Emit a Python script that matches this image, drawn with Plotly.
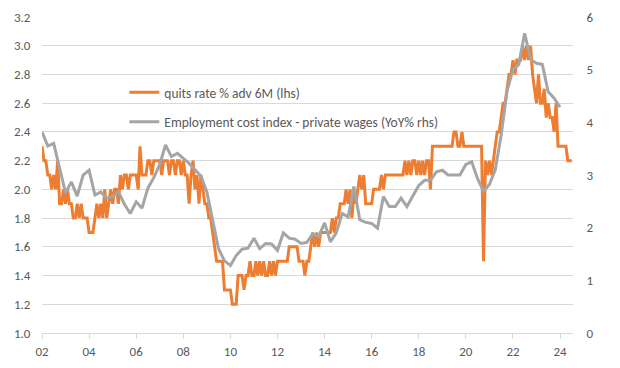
import pandas as pd
import plotly.graph_objects as go

# Quits rate % advanced 6M (lhs), monthly from Jan 2002
quits_start = "2002-01-01"
quits = [
    2.3, 2.2, 2.2, 2.1, 2.1, 2.0, 2.1, 2.0, 2.2, 1.9, 1.9, 2.0,  # 2002
    1.9, 2.0, 1.9, 1.9, 1.8, 1.8, 1.9, 1.8, 1.9, 1.8, 1.8, 1.8,  # 2003
    1.7, 1.7, 1.7, 1.8, 1.9, 1.8, 1.9, 1.8, 2.0, 1.8, 1.9, 2.0,  # 2004
    1.9, 2.0, 2.0, 1.9, 2.1, 2.0, 2.1, 2.1, 2.0, 2.1, 2.1, 2.1,  # 2005
    2.1, 2.0, 2.3, 2.1, 2.1, 2.1, 2.2, 2.2, 2.1, 2.2, 2.2, 2.2,  # 2006
    2.2, 2.1, 2.2, 2.2, 2.2, 2.1, 2.2, 2.2, 2.1, 2.2, 2.2, 2.1,  # 2007
    2.2, 2.1, 2.1, 1.9, 2.1, 2.2, 2.0, 2.1, 1.9, 2.1, 2.0, 1.9,  # 2008
    1.9, 1.8, 1.8, 1.7, 1.6, 1.5, 1.5, 1.5, 1.5, 1.3, 1.3, 1.3,  # 2009
    1.3, 1.2, 1.2, 1.2, 1.4, 1.4, 1.4, 1.3, 1.4, 1.4, 1.5, 1.4,  # 2010
    1.4, 1.5, 1.4, 1.5, 1.4, 1.5, 1.4, 1.4, 1.5, 1.4, 1.5, 1.4,  # 2011
    1.5, 1.5, 1.5, 1.5, 1.5, 1.5, 1.6, 1.6, 1.6, 1.6, 1.6, 1.5,  # 2012
    1.5, 1.5, 1.4, 1.5, 1.5, 1.6, 1.7, 1.6, 1.7, 1.6, 1.7, 1.7,  # 2013
    1.7, 1.7, 1.7, 1.7, 1.8, 1.7, 1.8, 1.8, 1.9, 1.9, 1.9, 2.0,  # 2014
    1.9, 2.0, 1.8, 2.0, 1.9, 2.0, 2.1, 2.0, 2.1, 1.9, 1.9, 1.9,  # 2015
    1.9, 2.0, 2.0, 2.0, 2.0, 2.1, 2.0, 2.1, 2.1, 2.1, 2.1, 2.1,  # 2016
    2.1, 2.1, 2.1, 2.1, 2.1, 2.2, 2.1, 2.2, 2.1, 2.2, 2.2, 2.1,  # 2017
    2.2, 2.1, 2.2, 2.1, 2.2, 2.2, 2.0, 2.3, 2.3, 2.3, 2.3, 2.3,  # 2018
    2.3, 2.3, 2.3, 2.3, 2.3, 2.3, 2.4, 2.4, 2.3, 2.3, 2.4, 2.3,  # 2019
    2.3, 2.3, 2.3, 2.3, 2.3, 2.3, 2.3, 2.3, 2.3, 1.5, 2.2, 2.1,  # 2020
    2.2, 2.1, 2.2, 2.3, 2.4, 2.4, 2.5, 2.6, 2.6, 2.7, 2.8, 2.8,  # 2021
    2.9, 2.8, 2.9, 2.9, 2.9, 3.0, 2.9, 3.0, 2.9, 3.0, 2.8, 2.7,  # 2022
    2.6, 2.8, 2.6, 2.6, 2.7, 2.5, 2.6, 2.5, 2.5, 2.4, 2.6, 2.3,  # 2023
    2.3, 2.3, 2.3, 2.3, 2.2, 2.2, 2.2,                           # 2024
]

# Employment cost index - private wages, YoY % (rhs), quarterly from 2002 Q1
eci_start = "2002-01-01"
eci = [
    3.82, 3.55, 3.60, 3.10,
    2.66, 2.87, 2.60, 3.00,
    3.09, 2.62, 2.68, 2.56,
    2.59, 2.68, 2.45, 2.27,
    2.49, 2.37, 2.75, 2.95,
    3.20, 3.57, 3.35, 3.41,
    3.31, 3.22, 3.10, 2.98,
    2.68, 2.15, 1.60, 1.37,
    1.28, 1.47, 1.59, 1.61,
    1.80, 1.60, 1.70, 1.69,
    1.57, 1.90, 1.80, 1.78,
    1.70, 1.72, 1.88, 1.83,
    2.09, 1.73, 1.90, 2.27,
    2.20, 2.78, 2.15, 2.10,
    2.08, 1.99, 2.59, 2.40,
    2.40, 2.56, 2.40, 2.60,
    2.80, 2.90, 2.90, 3.06,
    3.09, 3.00, 3.00, 3.00,
    3.20, 3.25, 2.93, 2.69,
    2.82, 3.10, 3.75, 4.60,
    5.00, 5.10, 5.69, 5.20,
    5.12, 5.10, 4.58, 4.46,
    4.29,
]

quits_name = "quits rate % adv 6M (lhs)"
eci_name = "Employment cost index - private wages (YoY% rhs)"

left_ticks = [1.0, 1.2, 1.4, 1.6, 1.8, 2.0, 2.2, 2.4, 2.6, 2.8, 3.0, 3.2]
right_ticks = [0, 1, 2, 3, 4, 5, 6]
x_ticks = [f"{y}-01-01" for y in range(2002, 2025, 2)]
x_labels = [f"{y % 100:02d}" for y in range(2002, 2025, 2)]

quits_dates = pd.date_range(quits_start, periods=len(quits), freq="MS")
eci_dates = pd.date_range(eci_start, periods=len(eci), freq="QS")

FONT = "Carlito, Lato, sans-serif"
TXT = "#595959"
GRID = "#D9D9D9"

fig = go.Figure()
fig.add_trace(go.Scatter(
    x=quits_dates, y=quits, name=quits_name, mode="lines",
    line=dict(color="#ED7D31", width=3), legendgroup="a", yaxis="y",
))
fig.add_trace(go.Scatter(
    x=eci_dates, y=eci, name=eci_name, mode="lines",
    line=dict(color="#A5A5A5", width=3), legendgroup="b", yaxis="y2",
))

# page body has an 8px default margin, so the figure is offset by 8px
fig.update_layout(
    width=604, height=360,
    margin=dict(l=34, r=39, t=9, b=35, autoexpand=False),
    paper_bgcolor="white", plot_bgcolor="white",
    font=dict(family=FONT, size=13, color=TXT),
    showlegend=True,
    legend=dict(
        x=0.155, y=0.81, xanchor="left", yanchor="top",
        bgcolor="rgba(0,0,0,0)", font=dict(family=FONT, size=13.5, color=TXT),
        tracegroupgap=9, traceorder="grouped",
    ),
    xaxis=dict(
        type="date", range=["2002-01-01", "2024-07-20"],
        tickvals=x_ticks, ticktext=x_labels,
        showgrid=False, zeroline=False, automargin=False,
        showline=True, linecolor=GRID, linewidth=1,
        ticks="outside", ticklen=5, tickcolor=GRID,
        ticklabelstandoff=1,
        tickfont=dict(family=FONT, size=13, color=TXT),
    ),
    yaxis=dict(
        range=[1.0, 3.2], tickvals=left_ticks, tickformat=".1f",
        showgrid=True, gridcolor=GRID, gridwidth=1, zeroline=False,
        automargin=False,
        showline=False, ticks="outside", ticklen=8, tickcolor="rgba(0,0,0,0)",
        tickfont=dict(family=FONT, size=13, color=TXT),
    ),
    yaxis2=dict(
        range=[0, 6], tickvals=right_ticks, overlaying="y", side="right",
        showgrid=False, zeroline=False, showline=False, automargin=False,
        ticks="outside", ticklen=10, tickcolor="rgba(0,0,0,0)",
        tickfont=dict(family=FONT, size=13, color=TXT),
    ),
)

fig.write_html("out.html")
